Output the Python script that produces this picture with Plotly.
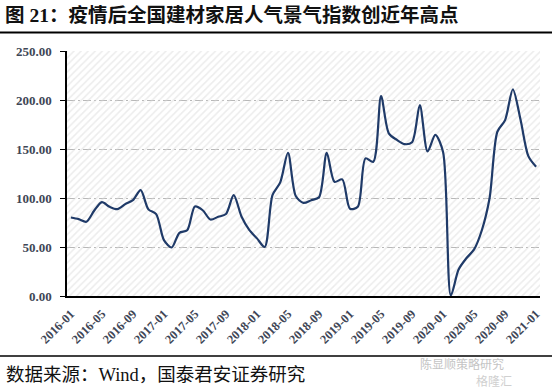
import plotly.graph_objects as go

months = [f"{y}-{m:02d}" for y in range(2016, 2021) for m in range(1, 13)] + ["2021-01"]

index_values = [
    80.1, 78.4, 75.8, 87.0, 95.8, 91.0, 88.6, 93.7, 97.8, 108.0,
    88.4, 83.6, 57.0, 49.5, 64.5, 67.1, 91.3, 87.5, 78.0, 80.8,
    83.6, 102.9, 81.2, 67.5, 58.8, 50.0, 102.9, 116.0, 146.0, 102.0,
    95.0, 97.8, 100.8, 146.1, 116.5, 119.0, 89.0, 91.0, 140.4, 137.0,
    204.0, 166.0, 159.5, 155.0, 157.0, 194.8, 147.5, 164.5, 147.0, 0.5,
    27.0, 38.5, 47.5, 67.1, 100.0, 167.6, 179.5, 210.9, 179.5, 142.7,
    131.8,
]

tick_labels = months[::4]
y_ticks = [0, 50, 100, 150, 200, 250]
y_tick_text = [f"{v:.2f}" for v in y_ticks]
Y_MAX = 250

W, H = 552, 388
L, R, T, B = 67, 12, 51, 92
PW, PH = W - L - R, H - T - B


def px(x):
    return (x - L) / PW


def py(y):
    return (H - B - y) / PH


fig = go.Figure()

# hatched background of the plot area
fig.add_trace(go.Bar(
    x=months, y=[Y_MAX] * len(months),
    marker=dict(color="rgba(255,255,255,0)", line=dict(width=0),
                pattern=dict(shape="/", fgcolor="#d9d9d9", bgcolor="rgba(255,255,255,0)",
                             size=5, solidity=0.3)),
    width=1.0, hoverinfo="skip", showlegend=False,
))

fig.add_trace(go.Scatter(
    x=months, y=index_values, mode="lines",
    line=dict(color="#1f3a68", width=2.2, shape="spline", smoothing=0.8),
    showlegend=False,
))

fig.update_layout(
    width=W, height=H,
    margin=dict(l=L, r=R, t=T, b=B, autoexpand=False),
    paper_bgcolor="white", plot_bgcolor="white",
    bargap=0,
    xaxis=dict(
        type="category", range=[-0.5, len(months) - 0.5],
        tickmode="array", tickvals=tick_labels, ticktext=tick_labels,
        tickangle=-45, ticks="", showgrid=False,
        showline=True, linecolor="black", linewidth=1.5,
        tickfont=dict(family="Liberation Serif, Times New Roman, serif", size=12.5,
                      color="#404656", weight="bold"),
        ticklabelstandoff=4,
    ),
    yaxis=dict(
        range=[0, Y_MAX], tickmode="array", tickvals=y_ticks, ticktext=y_tick_text,
        ticks="outside", ticklen=5, tickcolor="black", tickwidth=1.2,
        showline=True, linecolor="black", linewidth=1.5,
        showgrid=True, gridcolor="#b8b8b8", gridwidth=1, griddash="8px,3px,2px,3px",
        zeroline=False,
        tickfont=dict(family="Liberation Serif, Times New Roman, serif", size=13,
                      color="#404656", weight="bold"),
        ticklabelstandoff=6,
    ),
    font=dict(family="Liberation Serif, Noto Sans CJK SC, serif"),
)

# title
fig.add_annotation(
    xref="paper", yref="paper", x=px(3), y=py(15), xanchor="left", yanchor="middle",
    text="<b>图 21：疫情后全国建材家居人气景气指数创近年高点</b>", showarrow=False,
    font=dict(family="Liberation Serif, Noto Sans CJK SC", size=19.5, color="#111111"),
)
# source
fig.add_annotation(
    xref="paper", yref="paper", x=px(4), y=py(375), xanchor="left", yanchor="middle",
    text="数据来源：Wind，国泰君安证券研究", showarrow=False,
    font=dict(family="Liberation Serif, Noto Sans CJK SC", size=18.5, color="#111111"),
)
# watermark
fig.add_annotation(
    xref="paper", yref="paper", x=px(418), y=py(363), xanchor="left", yanchor="middle",
    text="陈显顺策略研究", showarrow=False,
    font=dict(family="Noto Sans CJK SC", size=12, color="#c4c4c4"),
)
fig.add_annotation(
    xref="paper", yref="paper", x=px(474), y=py(380), xanchor="left", yanchor="middle",
    text="格隆汇", showarrow=False,
    font=dict(family="Noto Sans CJK SC", size=12, color="#d0d0d0"),
)

# separator lines
fig.add_shape(type="line", xref="paper", yref="paper", x0=px(0), x1=px(W),
              y0=py(32.5), y1=py(32.5), line=dict(color="black", width=2))
fig.add_shape(type="line", xref="paper", yref="paper", x0=px(0), x1=px(W),
              y0=py(356), y1=py(356), line=dict(color="black", width=1.5))

fig.write_html(
    "out.html",
    config={"displayModeBar": False},
    post_script="document.body.style.margin='0';document.body.style.padding='0';document.body.style.overflow='hidden';",
)
